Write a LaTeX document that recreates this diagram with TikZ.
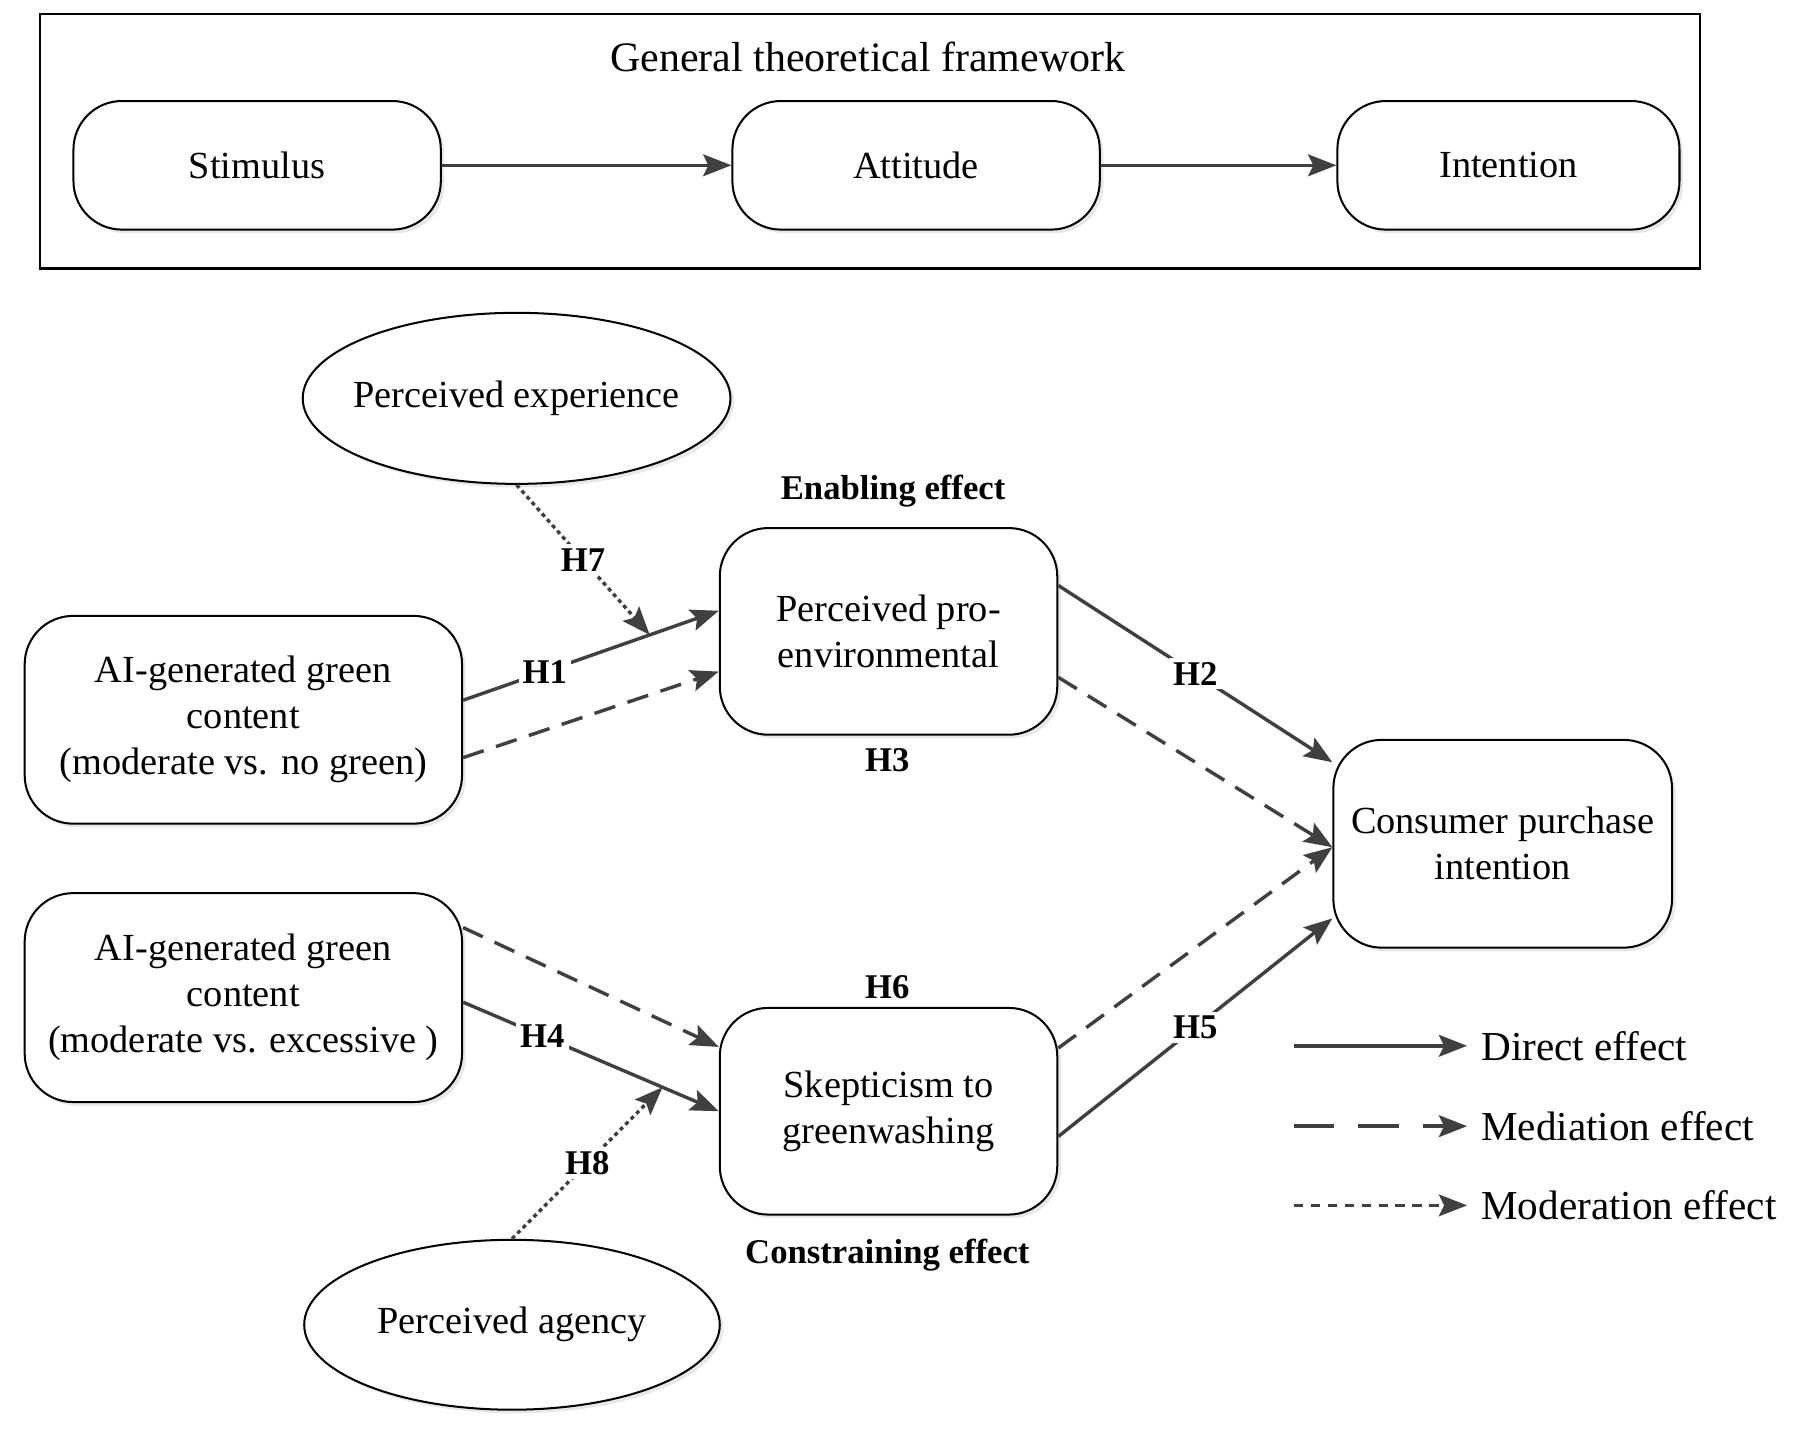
\documentclass[tikz,border=0pt]{standalone}
\usepackage{fontspec}
\setmainfont{Liberation Serif}
\usetikzlibrary{arrows.meta,shapes.geometric,shadows}
\definecolor{linegray}{RGB}{64,64,64}
\begin{document}
\begin{tikzpicture}[
	font=\fontsize{9.5}{11.4}\selectfont,
	box/.style={draw, rounded corners=12pt, align=center, fill=white, line width=0.5pt,
		drop shadow={shadow xshift=0.9pt, shadow yshift=-0.9pt, fill=black!15, opacity=0.6}},
	oval/.style={ellipse, draw, align=center, fill=white, line width=0.5pt, inner xsep=-3pt, inner ysep=0pt,
		drop shadow={shadow xshift=0.9pt, shadow yshift=-0.9pt, fill=black!15, opacity=0.6}},
	hyp/.style={font=\fontsize{8.6}{10}\selectfont\bfseries, fill=white, inner sep=1pt},
	effect/.style={font=\fontsize{8.6}{10}\selectfont\bfseries},
	direct/.style={draw=linegray, line width=0.85pt, -{Stealth[length=7pt, width=5.4pt, inset=1.3pt]}},
	mediate/.style={direct, dash pattern=on 5.4pt off 3.2pt},
	moderate/.style={direct, dash pattern=on 1pt off 0.9pt}
]
	\useasboundingbox (0,0) rectangle (15.68,-12.47);

	% general framework
	\node (frame) at ( 7.58, -1.23)	[draw, line width=0.6pt, minimum width=14.46cm, minimum height=2.22cm]	{};
	\node (title) at ( 7.56, -0.50)	[font=\fontsize{10.4}{12}\selectfont]	{General theoretical framework};
	\node (S) at ( 2.24, -1.44)	[box, minimum width=3.20cm, minimum height=1.12cm]	{Stimulus};
	\node (A) at ( 7.98, -1.44)	[box, minimum width=3.20cm, minimum height=1.12cm]	{Attitude};
	\node (I) at (13.14, -1.44)	[box, minimum width=2.98cm, minimum height=1.12cm]	{Intention};
	\draw[direct] (S) -- (A);
	\draw[direct] (A) -- (I);

	% research model
	\node (PE)  at ( 4.50, -3.47)	[oval, minimum width=3.72cm, minimum height=1.49cm]	{Perceived experience};
	\node (AI1) at ( 2.12, -6.27)	[box, minimum width=3.81cm, minimum height=1.81cm]	{AI-generated green\\content\\(moderate vs. no green)};
	\node (AI2) at ( 2.12, -8.69)	[box, minimum width=3.81cm, minimum height=1.82cm]	{AI-generated green\\content\\(moderate vs. excessive )};
	\node (PPE) at ( 7.74, -5.50)	[box, minimum width=2.94cm, minimum height=1.80cm]	{Perceived pro-\\environmental};
	\node (SG)  at ( 7.74, -9.68)	[box, minimum width=2.94cm, minimum height=1.80cm]	{Skepticism to\\greenwashing};
	\node (CPI) at (13.09, -7.35)	[box, minimum width=2.95cm, minimum height=1.81cm]	{Consumer purchase\\intention};
	\node (PA)  at ( 4.46,-11.54)	[oval, minimum width=3.62cm, minimum height=1.48cm]	{Perceived agency};

	\node (en) at ( 7.78, -4.28)	[effect]	{Enabling effect};
	\node (co) at ( 7.73,-10.93)	[effect]	{Constraining effect};
	\node (H3) at ( 7.73, -6.62)	[effect]	{H3};
	\node (H6) at ( 7.73, -8.60)	[effect]	{H6};

	\draw[direct] ([yshift=0.17cm]AI1.east) -- node[hyp, pos=0.32] {H1} coordinate[pos=0.73] (m1) ([yshift=0.18cm]PPE.west);
	\draw[mediate] ([yshift=-0.33cm]AI1.east) -- ([yshift=-0.35cm]PPE.west);
	\draw[direct] ([yshift=0.40cm]PPE.east) -- node[hyp] {H2} ([yshift=0.71cm]CPI.west);
	\draw[mediate] ([yshift=-0.40cm]PPE.east) -- ([yshift=-0.03cm]CPI.west);
	\draw[mediate] ([yshift=0.55cm]SG.east) -- ([yshift=-0.03cm]CPI.west);
	\draw[direct] ([yshift=-0.22cm]SG.east) -- node[hyp] {H5} ([yshift=-0.65cm]CPI.west);
	\draw[mediate] ([yshift=0.61cm]AI2.east) -- ([yshift=0.56cm]SG.west);
	\draw[direct] ([yshift=-0.04cm]AI2.east) -- node[hyp, pos=0.31] {H4} coordinate[pos=0.78] (m4) (SG.west);
	\draw[moderate] (PE.south) -- node[hyp] {H7} (m1);
	\draw[moderate] (PA.north) -- node[hyp] {H8} (m4);

	% legend
	\coordinate (d0) at (11.27, -9.11);
	\coordinate (e0) at (11.27, -9.81);
	\coordinate (f0) at (11.27,-10.50);
	\node (dir) at (12.78, -9.11)	[anchor=west, font=\fontsize{10.2}{12}\selectfont]	{Direct effect};
	\node (med) at (12.78, -9.81)	[anchor=west, font=\fontsize{10.2}{12}\selectfont]	{Mediation effect};
	\node (mod) at (12.78,-10.50)	[anchor=west, font=\fontsize{10.2}{12}\selectfont]	{Moderation effect};
	\draw[direct] (d0) -- (dir.west);
	\draw[mediate, dash pattern=on 10pt off 6pt] (e0) -- (med.west);
	\draw[moderate, dash pattern=on 2.4pt off 1.8pt] (f0) -- (mod.west);
\end{tikzpicture}
\end{document}
